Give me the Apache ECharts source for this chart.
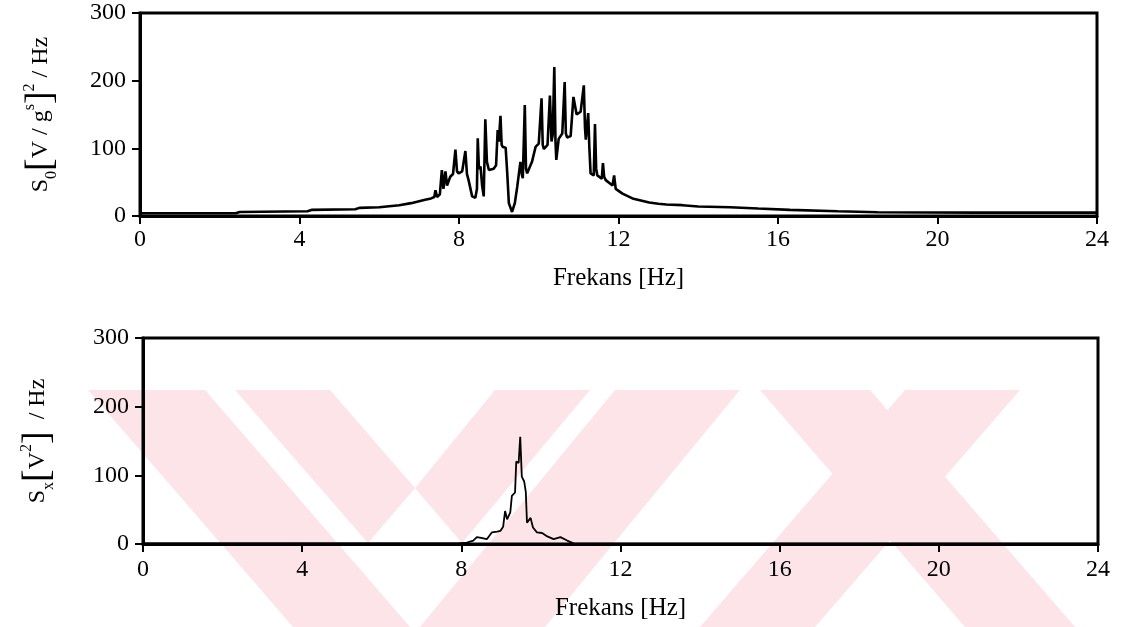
<!DOCTYPE html>
<html>
<head>
<meta charset="utf-8">
<script src="https://cdn.jsdelivr.net/npm/echarts@6/dist/echarts.min.js"></script>
<style>
  html, body { margin: 0; padding: 0; background: #fff; }
  #chart { width: 1121px; height: 627px; }
</style>
</head>
<body>
<div id="chart"></div>
<script>
// Power spectral density of the input (top) and of the response (bottom), 0-24 Hz.
const freqTop = [0, 2.4, 2.5, 4.2, 4.3, 5.4, 5.5, 6.0, 6.5, 6.8, 7.15, 7.3, 7.38, 7.41, 7.45, 7.52, 7.57, 7.61, 7.66, 7.7,
  7.78, 7.85, 7.91, 7.95, 7.99, 8.08, 8.16, 8.2, 8.24, 8.33, 8.41, 8.45, 8.47, 8.5, 8.54, 8.58, 8.62, 8.66, 8.7, 8.75,
  8.87, 8.93, 8.97, 9.0, 9.04, 9.07, 9.10, 9.17, 9.21, 9.25, 9.33, 9.40, 9.46, 9.54, 9.58, 9.60, 9.65, 9.68, 9.71, 9.83,
  9.92, 10.0, 10.07, 10.1, 10.13, 10.22, 10.28, 10.32, 10.35, 10.39, 10.42, 10.44, 10.50, 10.59, 10.65, 10.68, 10.71, 10.80, 10.87, 10.95,
  11.05, 11.13, 11.16, 11.18, 11.24, 11.27, 11.30, 11.38, 11.41, 11.44, 11.47, 11.58, 11.61, 11.64, 11.68, 11.85, 11.89, 11.93, 12.1, 12.35,
  12.77, 13.0, 13.2, 13.6, 14.0, 14.8, 15.5, 16.3, 17.5, 18.5, 21, 24];
const psdTop = [4, 4, 6, 7, 9, 10, 12, 13, 16, 19, 24, 26, 28, 38, 28, 32, 68, 40, 66, 45,
  58, 62, 98, 66, 63, 66, 96, 62, 53, 29, 27, 40, 115, 70, 73, 45, 29, 143, 80, 68,
  70, 75, 127, 110, 148, 105, 102, 101, 63, 19, 6, 19, 43, 80, 60, 56, 164, 70, 63, 80,
  102, 107, 174, 105, 99, 105, 178, 110, 120, 220, 110, 83, 114, 122, 198, 122, 116, 118, 176, 150,
  154, 193, 130, 113, 152, 100, 63, 60, 136, 70, 60, 55, 78, 58, 53, 45, 60, 40, 33, 26,
  20, 18, 17, 16, 14, 13, 11, 9, 7, 5.5, 5, 5];

const freqBottom = [0, 7.9, 8.14, 8.3, 8.39, 8.5, 8.64, 8.77, 8.9, 8.98, 9.05, 9.1, 9.15, 9.23, 9.27, 9.35, 9.38, 9.44, 9.48, 9.52,
  9.58, 9.62, 9.65, 9.74, 9.8, 9.9, 10.03, 10.16, 10.32, 10.49, 10.66, 10.82, 11, 24];
const psdBottom = [1, 1, 2, 5, 10, 9, 7, 17, 18, 19, 25, 48, 36, 46, 70, 75, 120, 118, 156, 98,
  91, 76, 31, 38, 24, 17, 16, 11, 7, 10, 5, 1, 0.5, 0.5];

const freqTicks = [0, 4, 8, 12, 16, 20, 24];
const psdTicks = [0, 100, 200, 300];

const SERIF = "'Liberation Serif', 'DejaVu Serif', serif";
const INK = '#000';
const PINK = '#fde4e9';

function pairs(xs, ys) { return xs.map((x, i) => [x, ys[i]]); }

function xAxisFor(gridIndex, labelMargin, nameGap) {
  return {
    gridIndex, type: 'value', min: freqTicks[0], max: freqTicks[freqTicks.length - 1], interval: 4,
    name: 'Frekans [Hz]', nameLocation: 'middle', nameGap,
    nameTextStyle: { fontFamily: SERIF, fontSize: 25, color: INK },
    axisLine: { show: true, onZero: false, lineStyle: { color: INK, width: 3 } },
    axisTick: { show: true, length: 8, lineStyle: { color: INK, width: 2 } },
    axisLabel: { margin: labelMargin, fontFamily: SERIF, fontSize: 24, color: INK },
    splitLine: { show: false }
  };
}

function yAxisFor(gridIndex, nameRich, name, nameGap) {
  return {
    gridIndex, type: 'value', min: psdTicks[0], max: psdTicks[psdTicks.length - 1], interval: 100,
    name, nameLocation: 'middle', nameRotate: 90, nameGap,
    nameTextStyle: { fontFamily: SERIF, fontSize: 24, color: INK, rich: nameRich },
    axisLine: { show: true, lineStyle: { color: INK, width: 3 } },
    axisTick: { show: true, length: 8, lineStyle: { color: INK, width: 2 } },
    axisLabel: { margin: 14, fontFamily: SERIF, fontSize: 24, color: INK },
    splitLine: { show: false }
  };
}

const richBase = {
  t: { fontFamily: SERIF, fontSize: 24, color: INK, lineHeight: 38, verticalAlign: 'middle' },
  sub: { fontFamily: SERIF, fontSize: 16, color: INK, lineHeight: 38, verticalAlign: 'bottom' },
  sup: { fontFamily: SERIF, fontSize: 16, color: INK, lineHeight: 38, verticalAlign: 'top' },
  br: { fontFamily: SERIF, fontSize: 38, color: INK, lineHeight: 38, verticalAlign: 'middle' }
};

const chart = echarts.init(document.getElementById('chart'), null, { renderer: 'canvas' });

// Pale pink diagonal bands drawn behind the lower panel.
const bands = [
  [[88, 390], [205, 390], [410, 627], [293, 627]],
  [[235, 390], [330, 390], [415, 488], [368, 543]],
  [[495, 390], [590, 390], [462, 543], [415, 488]],
  [[615, 390], [740, 390], [545, 627], [420, 627]],
  [[760, 390], [870, 390], [1075, 627], [965, 627]],
  [[905, 390], [1020, 390], [815, 627], [700, 627]]
];

chart.setOption({
  animation: false,
  backgroundColor: '#fff',
  graphic: bands.map(pts => ({
    type: 'polygon', z: -10, silent: true,
    shape: { points: pts },
    style: { fill: PINK }
  })),
  grid: [
    { left: 140, right: 24, top: 13, height: 203, show: true, borderColor: INK, borderWidth: 3, backgroundColor: 'transparent' },
    { left: 143, right: 23, top: 338, height: 206, show: true, borderColor: INK, borderWidth: 3, backgroundColor: 'transparent' }
  ],
  xAxis: [xAxisFor(0, 12, 50), xAxisFor(1, 14, 52)],
  yAxis: [
    yAxisFor(0, richBase, '{t|S}{sub|0}{br|[}{t|V / g}{sup|s}{br|]}{sup|2}{t| / Hz}', 80),
    yAxisFor(1, richBase, '{t|S}{sub|x}{br|[}{t|V}{sup|2}{br|]}{t|  / Hz}', 86)
  ],
  series: [
    {
      type: 'line', xAxisIndex: 0, yAxisIndex: 0, data: pairs(freqTop, psdTop),
      showSymbol: false, lineStyle: { color: INK, width: 2.6 }
    },
    {
      type: 'line', xAxisIndex: 1, yAxisIndex: 1, data: pairs(freqBottom, psdBottom),
      showSymbol: false, lineStyle: { color: INK, width: 1.8 }
    }
  ]
});
</script>
</body>
</html>
